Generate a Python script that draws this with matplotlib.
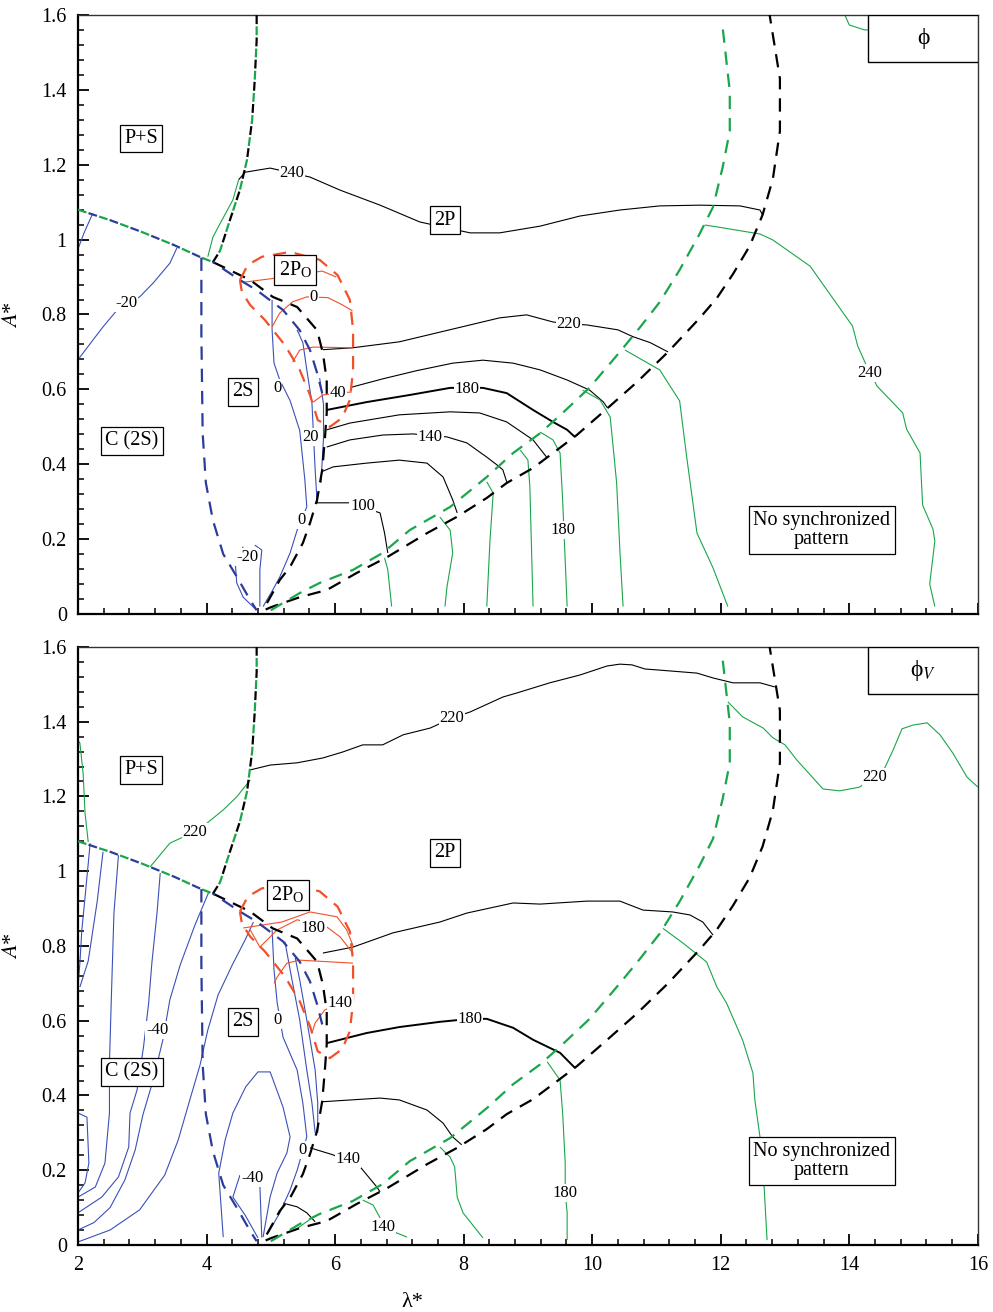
import numpy as np
import matplotlib
matplotlib.use('Agg')
import matplotlib.pyplot as plt
from matplotlib.ticker import MultipleLocator, FuncFormatter
from matplotlib.patches import Rectangle

plt.rcParams['font.family'] = ['Liberation Serif', 'DejaVu Serif']
plt.rcParams['mathtext.fontset'] = 'stix'

GREEN = '#1aa64a'
BLUE = '#2c3c9c'
BLUE_T = '#3b50b8'
RED = '#f0502a'

# ---- regime boundaries (same in both maps) ----
arc_black = [(4.92, 0.012), (5.0, 0.018), (5.45, 0.045), (5.87, 0.064), (6.34, 0.11), (6.81, 0.152),
             (7.43, 0.216), (7.9, 0.26), (8.36, 0.31), (8.67, 0.35), (9.08, 0.39), (9.39, 0.43),
             (9.76, 0.478), (10.24, 0.55), (10.7, 0.62), (11.18, 0.70), (11.67, 0.79), (11.94, 0.844),
             (12.19, 0.908), (12.45, 0.983), (12.65, 1.066), (12.81, 1.162), (12.92, 1.29),
             (12.92, 1.43), (12.76, 1.6)]
arc_green = [(5.0, 0.01), (5.45, 0.056), (5.76, 0.083), (6.28, 0.118), (6.74, 0.163), (7.16, 0.224),
             (7.79, 0.286), (8.36, 0.366), (8.77, 0.43), (9.19, 0.483), (9.54, 0.537), (9.96, 0.605),
             (10.43, 0.70), (10.74, 0.765), (11.05, 0.833), (11.36, 0.919), (11.67, 1.015),
             (11.88, 1.087), (12.03, 1.194), (12.14, 1.29), (12.14, 1.397), (12.03, 1.565)]
left_edge = [(2.0, 1.08), (2.5, 1.052), (3.0, 1.02), (3.5, 0.985), (3.92, 0.952), (4.1, 0.94)]
upper_edge = [(4.1, 0.94), (4.21, 0.97), (4.36, 1.05), (4.52, 1.133), (4.63, 1.213), (4.71, 1.32),
              (4.75, 1.426), (4.78, 1.533), (4.78, 1.6)]
s2_right_black = [(4.1, 0.94), (4.68, 0.892), (5.03, 0.847), (5.41, 0.82), (5.72, 0.758), (5.81, 0.697),
                  (5.87, 0.625), (5.87, 0.537), (5.84, 0.465), (5.80, 0.385), (5.72, 0.305),
                  (5.61, 0.243), (5.5, 0.19), (5.3, 0.126), (5.14, 0.091), (4.94, 0.029), (4.88, 0.012)]
s2_right_blue = [(4.1, 0.94), (4.52, 0.892), (4.78, 0.865), (5.19, 0.812), (5.45, 0.758), (5.61, 0.705),
                 (5.72, 0.644), (5.8, 0.59)]
s2_left_blue = [(3.92, 0.952), (3.92, 0.75), (3.94, 0.483), (3.99, 0.35), (4.1, 0.25), (4.26, 0.16),
                (4.47, 0.1), (4.68, 0.037), (4.78, 0.01)]
po_region = [(4.52, 0.892), (4.64, 0.932), (4.86, 0.954), (5.30, 0.967), (5.76, 0.946), (6.04, 0.905),
             (6.23, 0.839), (6.28, 0.759), (6.28, 0.652), (6.23, 0.572), (6.11, 0.524), (5.92, 0.50),
             (5.73, 0.518), (5.61, 0.585), (5.45, 0.652), (5.22, 0.718), (4.91, 0.785), (4.68, 0.825),
             (4.55, 0.86), (4.52, 0.892)]

# ---- phase contours, phi ----
phi_black = [
    [(4.5, 1.16), (4.6, 1.18), (4.99, 1.191), (5.61, 1.167), (6.08, 1.132), (6.7, 1.092), (7.32, 1.047),
     (8.1, 1.018), (8.56, 1.018), (9.19, 1.036), (9.81, 1.063), (10.43, 1.079), (11.05, 1.09),
     (11.67, 1.092), (12.3, 1.09), (12.61, 1.079), (12.65, 1.066)],
    [(5.81, 0.706), (6.27, 0.711), (7.0, 0.727), (7.78, 0.759), (8.56, 0.791), (8.98, 0.799),
     (9.39, 0.78), (9.66, 0.775), (9.92, 0.772), (10.4, 0.759), (10.63, 0.741), (10.9, 0.725),
     (11.18, 0.70)],
    [(6.26, 0.606), (6.74, 0.628), (7.27, 0.65), (7.83, 0.67), (8.3, 0.678), (8.77, 0.67), (9.19, 0.652),
     (9.61, 0.625), (9.96, 0.598), (10.17, 0.567), (10.24, 0.55)],
    [(5.87, 0.492), (6.23, 0.51), (7.0, 0.532), (7.79, 0.54), (8.25, 0.537), (8.67, 0.513),
     (9.08, 0.465), (9.3, 0.417)],
    [(5.87, 0.446), (6.23, 0.465), (6.74, 0.478), (7.21, 0.481), (7.74, 0.473), (8.05, 0.457),
     (8.36, 0.419), (8.52, 0.398), (8.61, 0.385), (8.67, 0.353)],
    [(5.79, 0.38), (5.97, 0.393), (6.49, 0.403), (7.0, 0.411), (7.43, 0.403), (7.68, 0.366),
     (7.83, 0.305), (7.9, 0.27)],
    [(5.72, 0.323), (5.72, 0.297), (6.23, 0.297), (6.7, 0.27), (6.77, 0.216), (6.82, 0.163)],
]
phi_black_180 = [(5.87, 0.545), (6.49, 0.566), (7.16, 0.585), (7.79, 0.604), (8.3, 0.604), (8.67, 0.59),
                 (9.08, 0.545), (9.39, 0.513), (9.61, 0.492), (9.73, 0.473)]
phi_green = [
    [(4.02, 0.954), (4.1, 1.007), (4.24, 1.052), (4.41, 1.106), (4.5, 1.16)],
    [(11.75, 1.039), (11.94, 1.034), (12.61, 1.015), (12.81, 0.999), (13.39, 0.929), (13.74, 0.844),
     (14.05, 0.769), (14.13, 0.716), (14.27, 0.662), (14.43, 0.609), (14.83, 0.537), (14.89, 0.494),
     (15.1, 0.43), (15.14, 0.291), (15.3, 0.227), (15.33, 0.195), (15.25, 0.08), (15.33, 0.02)],
    [(10.51, 0.705), (11.05, 0.652), (11.36, 0.569), (11.47, 0.419), (11.63, 0.216), (11.88, 0.123),
     (12.11, 0.02)],
    [(9.85, 0.598), (10.12, 0.572), (10.28, 0.526), (10.38, 0.35), (10.43, 0.171), (10.48, 0.02)],
    [(9.19, 0.486), (9.39, 0.465), (9.5, 0.43), (9.54, 0.305), (9.61, 0.02)],
    [(8.88, 0.438), (9.0, 0.411), (9.03, 0.34), (9.08, 0.02)],
    [(8.36, 0.353), (8.46, 0.323), (8.41, 0.198), (8.36, 0.02)],
    [(7.63, 0.259), (7.79, 0.224), (7.83, 0.163), (7.74, 0.072), (7.71, 0.02)],
    [(6.77, 0.15), (6.82, 0.118), (6.88, 0.02)],
    [(13.93, 1.6), (14.0, 1.573), (14.24, 1.56), (14.4, 1.56)],
]
phi_blue = [
    [(2.0, 0.675), (2.03, 0.686), (2.39, 0.767), (2.65, 0.82), (2.96, 0.847), (3.17, 0.884),
     (3.43, 0.937), (3.54, 0.978)],
    [(2.0, 0.975), (2.1, 1.02), (2.22, 1.066)],
    [(5.02, 0.839), (5.02, 0.759), (5.05, 0.67), (5.14, 0.625), (5.3, 0.57), (5.45, 0.49),
     (5.53, 0.358), (5.56, 0.286), (5.41, 0.224), (5.3, 0.163), (5.14, 0.099), (5.03, 0.064),
     (4.88, 0.02)],
    [(5.41, 0.759), (5.5, 0.724), (5.56, 0.652), (5.64, 0.564), (5.69, 0.385), (5.72, 0.3)],
    [(5.76, 0.63), (5.82, 0.56), (5.82, 0.47), (5.78, 0.35)],
    [(4.75, 0.184), (4.86, 0.171), (4.83, 0.118), (4.83, 0.02)],
    [(4.57, 0.18), (4.45, 0.13), (4.47, 0.083), (4.57, 0.045), (4.75, 0.015)],
]
phi_red = [
    [(4.57, 0.886), (5.07, 0.897), (5.8, 0.916), (6.02, 0.9)],
    [(5.02, 0.767), (5.14, 0.804), (5.34, 0.834), (5.56, 0.847), (5.89, 0.845), (6.11, 0.826),
     (6.27, 0.81)],
    [(5.34, 0.673), (5.45, 0.705), (5.66, 0.713), (6.28, 0.711)],
    [(5.66, 0.566), (5.81, 0.585), (6.04, 0.59), (6.26, 0.593)],
]
phi_labels = [(5.33, 1.178, '240'), (2.75, 0.83, '-20'), (5.67, 0.847, '0'), (5.1, 0.604, '0'),
              (6.04, 0.59, '40'), (5.62, 0.473, '20'), (5.48, 0.251, '0'), (4.63, 0.152, '-20'),
              (6.43, 0.288, '100'), (9.64, 0.775, '220'), (8.05, 0.601, '180'), (7.48, 0.473, '140'),
              (9.54, 0.224, '180'), (14.32, 0.644, '240')]

# ---- phase contours, phi_V ----
phiv_black = [
    [(4.68, 1.271), (4.99, 1.284), (5.41, 1.29), (5.81, 1.303), (6.12, 1.319), (6.43, 1.338),
     (6.74, 1.338), (7.06, 1.365), (7.48, 1.383), (7.82, 1.41), (8.1, 1.426), (8.61, 1.466),
     (8.83, 1.477), (9.34, 1.504), (9.81, 1.525), (10.23, 1.549), (10.43, 1.554), (10.62, 1.552),
     (10.82, 1.541), (11.05, 1.538), (11.63, 1.53), (11.88, 1.517), (12.19, 1.504), (12.61, 1.504),
     (12.84, 1.493)],
    [(5.81, 0.781), (6.28, 0.797), (6.9, 0.835), (7.63, 0.864), (8.05, 0.888), (8.77, 0.915),
     (9.19, 0.912), (9.92, 0.92), (10.43, 0.92), (10.79, 0.896), (11.25, 0.891), (11.52, 0.883),
     (11.72, 0.864), (11.88, 0.829)],
    [(5.79, 0.383), (5.97, 0.385), (6.7, 0.393), (7.0, 0.388), (7.43, 0.361), (7.68, 0.326),
     (7.83, 0.289), (7.97, 0.268)],
    [(5.61, 0.26), (5.97, 0.241), (6.39, 0.209), (6.65, 0.155), (6.7, 0.142)],
    [(5.19, 0.112), (5.41, 0.102), (5.56, 0.086), (5.69, 0.062)],
]
phiv_black_180 = [(5.87, 0.54), (6.49, 0.567), (7.0, 0.583), (7.63, 0.597), (8.1, 0.605), (8.36, 0.605),
                  (8.77, 0.581), (9.08, 0.549), (9.5, 0.514), (9.73, 0.474)]
phiv_green = [
    [(12.11, 1.453), (12.34, 1.413), (12.66, 1.383), (12.81, 1.357), (13.0, 1.338), (13.18, 1.298),
     (13.59, 1.22), (13.85, 1.215), (14.16, 1.225), (14.55, 1.276), (14.68, 1.324), (14.82, 1.381),
     (14.99, 1.391), (15.21, 1.397), (15.41, 1.365), (15.61, 1.316), (15.83, 1.252), (16.0, 1.225)],
    [(3.12, 1.011), (3.43, 1.075), (3.63, 1.091), (3.82, 1.102), (4.01, 1.129), (4.26, 1.164),
     (4.47, 1.199), (4.68, 1.244)],
    [(2.0, 1.35), (2.03, 1.343), (2.08, 1.263), (2.11, 1.156), (2.16, 1.078)],
    [(6.43, 0.12), (6.59, 0.107), (6.74, 0.06), (6.96, 0.032), (7.12, 0.021)],
    [(5.38, 0.04), (5.5, 0.055), (5.62, 0.07)],
    [(7.63, 0.262), (7.79, 0.235), (7.86, 0.209), (7.9, 0.128), (7.99, 0.086), (8.3, 0.019)],
    [(9.3, 0.49), (9.5, 0.441), (9.54, 0.353), (9.58, 0.219), (9.58, 0.139), (9.61, 0.086),
     (9.61, 0.013)],
    [(11.1, 0.847), (11.41, 0.808), (11.78, 0.757), (11.94, 0.69), (12.09, 0.647), (12.34, 0.548),
     (12.5, 0.46), (12.53, 0.388), (12.61, 0.289), (12.66, 0.2), (12.72, 0.013)],
]
phiv_blue = [
    [(2.19, 1.075), (2.11, 0.93), (2.06, 0.842), (2.03, 0.754), (2.0, 0.69)],
    [(2.39, 1.052), (2.3, 0.92), (2.16, 0.76), (2.03, 0.69)],
    [(2.63, 1.043), (2.56, 0.888), (2.52, 0.664), (2.49, 0.487), (2.49, 0.353), (2.42, 0.219),
     (2.27, 0.155), (2.0, 0.128)],
    [(3.28, 0.995), (3.23, 0.888), (3.15, 0.755), (3.1, 0.647), (3.02, 0.53), (2.92, 0.415),
     (2.81, 0.353), (2.79, 0.262), (2.63, 0.182), (2.37, 0.128), (2.0, 0.086)],
    [(4.03, 0.942), (3.82, 0.856), (3.59, 0.749), (3.43, 0.656), (3.32, 0.548), (3.17, 0.441),
     (3.01, 0.348), (2.89, 0.254), (2.73, 0.174), (2.5, 0.1), (2.25, 0.06), (2.0, 0.04)],
    [(4.73, 0.864), (4.6, 0.816), (4.4, 0.749), (4.18, 0.669), (4.02, 0.575), (3.9, 0.482),
     (3.74, 0.388), (3.56, 0.281), (3.35, 0.187), (2.96, 0.094), (2.5, 0.04), (2.0, 0.008)],
    [(2.0, 0.353), (2.14, 0.342), (2.17, 0.219), (2.11, 0.166), (2.0, 0.139)],
    [(5.02, 0.843), (5.05, 0.736), (5.1, 0.647), (5.19, 0.556), (5.41, 0.468), (5.5, 0.378),
     (5.56, 0.289), (5.41, 0.2), (5.3, 0.147), (5.14, 0.086), (4.96, 0.032)],
    [(5.22, 0.811), (5.33, 0.709), (5.45, 0.602), (5.56, 0.468), (5.64, 0.38), (5.69, 0.3)],
    [(5.38, 0.768), (5.45, 0.709), (5.56, 0.602), (5.69, 0.468), (5.73, 0.38), (5.73, 0.3)],
    [(4.26, 0.021), (4.19, 0.192), (4.29, 0.281), (4.41, 0.353), (4.61, 0.423), (4.8, 0.463),
     (4.99, 0.463), (5.19, 0.369), (5.3, 0.289), (5.25, 0.246), (5.1, 0.193), (4.99, 0.129),
     (4.88, 0.021)],
    [(4.83, 0.16), (4.86, 0.02)],
    [(4.52, 0.187), (4.41, 0.128), (4.6, 0.08), (4.8, 0.019)],
]
phiv_red = [
    [(4.57, 0.848), (5.17, 0.864), (5.61, 0.891), (6.03, 0.878), (6.18, 0.843), (6.28, 0.8)],
    [(4.68, 0.843), (4.83, 0.797), (5.1, 0.843), (5.41, 0.87), (5.87, 0.851), (6.08, 0.824),
     (6.28, 0.78)],
    [(5.05, 0.7), (5.1, 0.717), (5.25, 0.754), (5.45, 0.762), (6.28, 0.754)],
    [(5.64, 0.567), (5.69, 0.594), (5.84, 0.629), (6.0, 0.64)],
]
phiv_labels = [(7.82, 1.41, '220'), (3.82, 1.105, '220'), (14.4, 1.252, '220'), (5.66, 0.848, '180'),
               (6.08, 0.647, '140'), (5.1, 0.602, '0'), (3.23, 0.575, '-40'), (8.1, 0.605, '180'),
               (5.5, 0.254, '0'), (6.2, 0.23, '140'), (4.71, 0.179, '-40'), (6.74, 0.048, '140'),
               (9.58, 0.139, '180')]

regions_phi = [(2.98, 1.27, 'P+S'), (7.71, 1.052, '2P'), (5.38, 0.919, r'2P$_\mathregular{O}$'),
               (4.57, 0.593, '2S'), (2.84, 0.462, 'C (2S)'),
               (13.57, 0.224, 'No synchronized\npattern')]
regions_phiv = [(2.98, 1.271, 'P+S'), (7.71, 1.049, '2P'), (5.27, 0.936, r'2P$_\mathregular{O}$'),
                (4.57, 0.597, '2S'), (2.84, 0.463, 'C (2S)'),
                (13.57, 0.225, 'No synchronized\npattern')]


def draw(ax, pts, color, lw=0.8, ls='-', z=2):
    a = np.asarray(pts)
    ax.plot(a[:, 0], a[:, 1], color=color, lw=lw, linestyle=ls, zorder=z,
            solid_capstyle='butt', dash_capstyle='butt', solid_joinstyle='round')


def boundaries(ax):
    d = (6, 4)
    draw(ax, arc_black, 'black', 1.6, (0, d), 4)
    draw(ax, arc_green, GREEN, 1.6, (0, d), 4)
    draw(ax, left_edge, GREEN, 1.6, (0, (4, 6)), 4)
    draw(ax, left_edge, BLUE, 1.6, (5, (4, 6)), 4)
    draw(ax, upper_edge, 'black', 1.6, (0, (4, 6)), 4)
    draw(ax, upper_edge, GREEN, 1.6, (5, (4, 6)), 4)
    draw(ax, s2_right_black, 'black', 1.6, (0, d), 4)
    draw(ax, s2_right_blue, BLUE, 1.6, (5, d), 4)
    draw(ax, s2_left_blue, BLUE, 1.6, (0, d), 4)
    draw(ax, po_region, RED, 1.6, (0, d), 4)


def label_regions(ax, regions):
    for x, y, s in regions:
        ax.text(x, y, s, ha='center', va='center', fontsize=14.5, linespacing=1.05, zorder=7,
                bbox=dict(boxstyle='square,pad=0.22', fc='white', ec='black', lw=0.9))


def label_levels(ax, labels):
    for x, y, s in labels:
        ax.text(x, y, s, ha='center', va='center', fontsize=12, zorder=6,
                bbox=dict(boxstyle='square,pad=0.05', fc='white', ec='none'))


def setup(ax, tag):
    ax.set_xlim(2, 16)
    ax.set_ylim(0, 1.6)
    ax.xaxis.set_major_locator(MultipleLocator(2))
    ax.xaxis.set_minor_locator(MultipleLocator(0.4))
    ax.yaxis.set_major_locator(MultipleLocator(0.2))
    ax.yaxis.set_minor_locator(MultipleLocator(0.04))
    ax.yaxis.set_major_formatter(FuncFormatter(lambda v, p: '%g' % round(v, 2)))
    ax.tick_params(which='both', direction='in', top=False, right=False, labelsize=14.5, pad=8)
    ax.tick_params(which='major', length=8, width=1.3)
    ax.tick_params(which='minor', length=4.5, width=1.1)
    for side in ('left', 'bottom'):
        ax.spines[side].set_linewidth(1.6)
    for side in ('top', 'right'):
        ax.spines[side].set_linewidth(1.0)
        ax.spines[side].set_color('#333333')
    ax.set_ylabel(r'$A$*', fontsize=16)
    ax.yaxis.set_label_coords(-0.062, 0.5)
    ax.add_patch(Rectangle((0.878, 0.9215), 0.122, 0.0785, transform=ax.transAxes,
                           fc='white', ec='black', lw=1.0, zorder=8))
    ax.text(0.939, 0.961, tag, transform=ax.transAxes, ha='center', va='center',
            fontsize=17, zorder=9)


fig = plt.figure(figsize=(9.93, 13.12), dpi=100)
ax1 = fig.add_axes([0.0785, 0.532, 0.9063, 0.4566])
ax2 = fig.add_axes([0.0785, 0.0511, 0.9063, 0.4558])

# top map: phi
for pts in phi_black:
    draw(ax1, pts, 'black')
draw(ax1, phi_black_180, 'black', 1.4)
for pts in phi_green:
    draw(ax1, pts, GREEN)
for pts in phi_blue:
    draw(ax1, pts, BLUE_T)
for pts in phi_red:
    draw(ax1, pts, RED)
boundaries(ax1)
label_levels(ax1, phi_labels)
label_regions(ax1, regions_phi)
setup(ax1, 'ϕ')
ax1.tick_params(labelbottom=False)

# bottom map: phi_V
for pts in phiv_black:
    draw(ax2, pts, 'black')
draw(ax2, phiv_black_180, 'black', 1.4)
for pts in phiv_green:
    draw(ax2, pts, GREEN)
for pts in phiv_blue:
    draw(ax2, pts, BLUE_T)
for pts in phiv_red:
    draw(ax2, pts, RED)
boundaries(ax2)
label_levels(ax2, phiv_labels)
label_regions(ax2, regions_phiv)
setup(ax2, r'ϕ$_{V}$')
ax2.set_xlabel('λ*', fontsize=16)
ax2.xaxis.set_label_coords(0.371, -0.08)

fig.savefig('out.png', dpi=100)
